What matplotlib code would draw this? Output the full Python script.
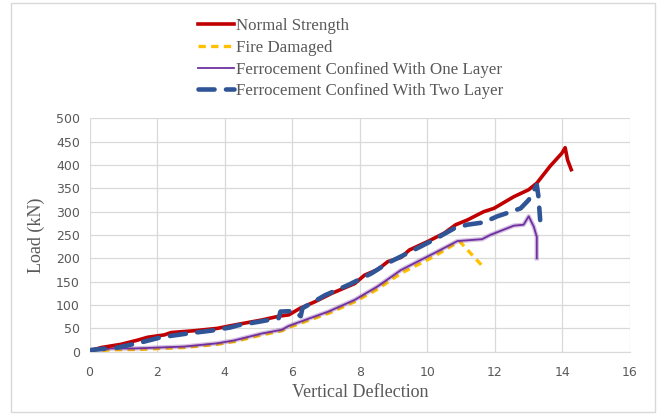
import matplotlib.pyplot as plt
from matplotlib.patches import Rectangle

# Normal Strength
ns_x = [0, 0.35, 0.94, 1.43, 1.72, 2.21, 2.41, 3.1, 3.78, 4.27, 5.1, 5.6, 5.9, 6.23, 6.67,
        7.17, 7.85, 8.14, 8.53, 8.83, 9.22, 9.47, 10.01, 10.5, 10.84, 11.18, 11.67, 11.97,
        12.56, 13.0, 13.24, 13.63, 13.98, 14.08, 14.15, 14.26]
ns_y = [2, 9, 16, 25, 31, 36, 41, 45, 50, 57, 68, 76, 79, 93, 107,
        125, 146, 164, 176, 193, 202, 218, 236, 254, 272, 282, 300, 307,
        332, 347, 361, 397, 425, 437, 411, 390]

# Fire Damaged
fd_x = [0, 0.6, 1.5, 2.8, 3.8, 4.3, 5.1, 5.7, 5.9, 6.4, 7.1, 7.85, 8.5, 9.22, 10.2, 10.75, 10.96, 11.7]
fd_y = [0, 4, 5, 9, 16, 22, 36, 45, 52, 65, 83, 107, 133, 168, 204, 228, 236, 178]

# Ferrocement one layer
one_x = [0, 0.64, 1.33, 2.8, 3.78, 4.27, 5.1, 5.69, 5.89, 6.38, 7.07, 7.85, 8.53, 9.22,
         10.2, 10.89, 11.62, 11.86, 12.56, 12.85, 13.0, 13.15, 13.24, 13.24]
one_y = [2, 7, 7, 11, 18, 24, 39, 47, 55, 68, 86, 111, 140, 175,
         211, 237, 241, 250, 270, 272, 290, 268, 246, 200]

# Ferrocement two layer
two_x = [0, 0.06, 0.84, 1.58, 2.12, 2.9, 3.59, 4.17, 4.42, 5.0, 5.6, 5.65, 6.05, 6.25, 6.3,
         6.97, 7.66, 8.35, 8.83, 9.52, 10.2, 10.79, 11.18, 11.67, 12.07, 12.36, 12.76, 13.0,
         13.24, 13.29, 13.34]
two_y = [0, 4, 9, 21, 31, 39, 45, 52, 57, 64, 72, 86, 87, 76, 93,
         121, 143, 168, 190, 215, 240, 264, 272, 277, 290, 297, 307, 325,
         357, 332, 282]

serif = 'Liberation Serif'
grey = '#595959'

fig = plt.figure(figsize=(6.59, 4.15), dpi=100)
ax = fig.add_axes([0.136, 0.1525, 0.82, 0.5625])

fig.patches.append(Rectangle((11 / 659, 3 / 415), 644 / 659, 409 / 415, transform=fig.transFigure,
                             fill=False, edgecolor='#D9D9D9', linewidth=1))

l1, = ax.plot(ns_x, ns_y, color='#C00000', lw=2.6, zorder=4, label='Normal Strength')
l2, = ax.plot(fd_x, fd_y, color='#FFC000', lw=2.4, ls=(0, (2.2, 1.6)), zorder=2, label='Fire Damaged')
ax.plot(one_x, one_y, color='#7030A0', lw=3.2, alpha=0.3, zorder=3)
l3, = ax.plot(one_x, one_y, color='#7030A0', lw=1.3, zorder=3, label='Ferrocement Confined With One Layer')
l4, = ax.plot(two_x, two_y, color='#2F5597', lw=3.3, ls=(0, (3.5, 2.5)), dash_capstyle='round',
              zorder=5, label='Ferrocement Confined With Two Layer')

ax.set_xlim(0, 16)
ax.set_ylim(0, 500)
ax.set_xticks(range(0, 17, 2))
ax.set_yticks(range(0, 501, 50))
ax.grid(True, color='#D9D9D9', lw=0.9)
ax.set_axisbelow(True)
for s in ['top', 'right', 'left']:
    ax.spines[s].set_visible(False)
ax.spines['bottom'].set_color('#D9D9D9')
ax.tick_params(length=0, labelsize=9, labelcolor=grey, pad=10)
ax.tick_params(axis='y', pad=7)

ax.set_xlabel('Vertical Deflection', family=serif, fontsize=13, color=grey, labelpad=4)
ax.set_ylabel('Load (kN)', family=serif, fontsize=13, color=grey, labelpad=8)

fig.legend(handles=[l1, l2, l3, l4], loc='upper left', bbox_to_anchor=(0.29, 0.972),
           frameon=False, prop={'family': serif, 'size': 12.2}, labelcolor=grey,
           handlelength=2.15, handletextpad=0.1, labelspacing=0.33, borderaxespad=0)

fig.savefig('out.png', dpi=100)
